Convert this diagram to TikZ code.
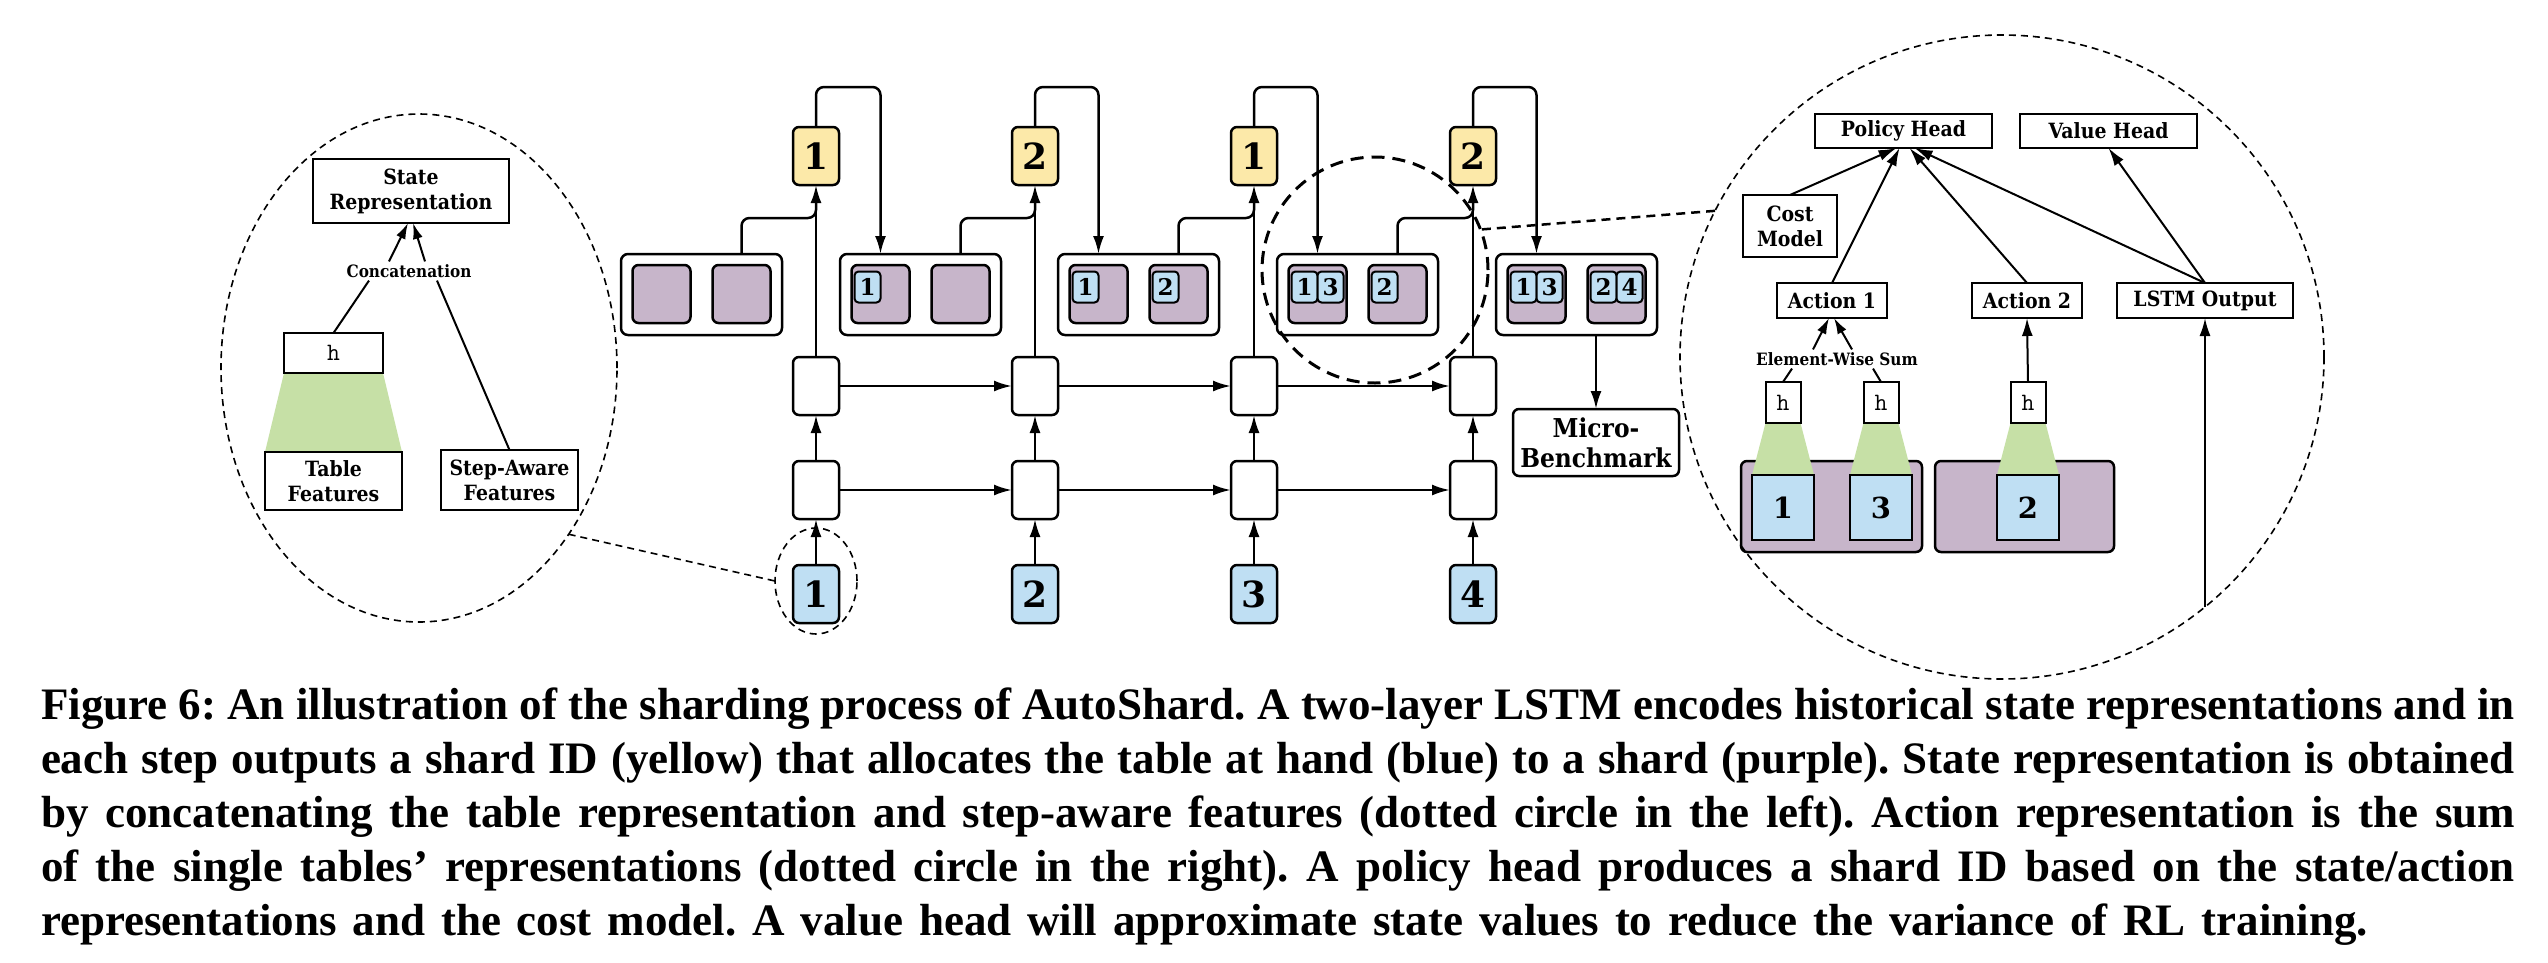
\documentclass[tikz,border=0pt]{standalone}
\usepackage{fontspec}
\setmainfont{Liberation Serif}
\newfontfamily\dfont{DejaVu Serif}[FakeStretch=0.9]
\newfontfamily\dnum{DejaVu Serif}
\usetikzlibrary{shapes.geometric,arrows.meta,calc}
\pgfdeclarelayer{bg}
\pgfdeclarelayer{mid}
\pgfsetlayers{bg,mid,main}
\definecolor{cyellow}{HTML}{FCE9A9}
\definecolor{cblue}{HTML}{BFDFF3}
\definecolor{cpurple}{HTML}{C7B5CA}
\definecolor{cgreen}{HTML}{C6E0A6}
\frenchspacing
\tikzset{
  every node/.style={inner sep=0pt, outer sep=0pt},
  cellbox/.style={draw, line width=2.5pt, rounded corners=6pt, minimum width=46pt, minimum height=58pt, font=\dnum\bfseries\fontsize{36}{36}\selectfont},
  ybox/.style={cellbox, fill=cyellow},
  bbox/.style={cellbox, fill=cblue},
  lbox/.style={cellbox, fill=white},
  shardset/.style={draw, line width=2.5pt, rounded corners=7pt, minimum width=161pt, minimum height=81pt, fill=white},
  pbox/.style={draw, line width=2.5pt, rounded corners=6pt, fill=cpurple, minimum width=58pt, minimum height=58pt},
  tbox/.style={draw, line width=2pt, rounded corners=4pt, fill=cblue, minimum width=26pt, minimum height=31pt, font=\dnum\bfseries\fontsize{23}{23}\selectfont},
  lab/.style={draw, line width=2pt, fill=white, font=\dfont\bfseries\fontsize{21}{25}\selectfont, align=center},
  smalllab/.style={inner sep=3pt, font=\dfont\bfseries\fontsize{17}{17}\selectfont},
  hbox/.style={draw, line width=2pt, fill=white, font=\ttfamily\fontsize{25}{25}\selectfont},
  bigp/.style={draw, line width=2.5pt, rounded corners=6pt, fill=cpurple, minimum height=91pt},
  bigb/.style={draw, line width=2.5pt, fill=cblue, minimum width=62pt, minimum height=65pt, font=\dnum\bfseries\fontsize{29}{29}\selectfont},
  mainln/.style={line width=2.5pt},
  thinln/.style={line width=2pt},
  smallarr/.style={-{Latex[length=16pt,width=10pt]}},
  dashthin/.style={line width=1.6pt, dash pattern=on 7pt off 5pt},
  dashthick/.style={line width=3pt, dash pattern=on 13pt off 8pt},
  dashlink/.style={line width=2.5pt, dash pattern=on 9pt off 6pt},
  captext/.style={anchor=base west, font=\bfseries\fontsize{45}{54}\selectfont}
}
\begin{document}
\begin{tikzpicture}[x=1pt, y=-1pt, >={Latex[length=18pt,width=11pt]}]
\begin{pgfonlayer}{bg}
\fill[white] (0,0) rectangle (2548,962);
\end{pgfonlayer}
\useasboundingbox (0,0) rectangle (2548,962);

\coordinate (topline) at (0,87);
\coordinate (junc) at (0,218);

% ---------- LSTM columns ----------
\foreach \i/\x/\yv/\bv in {1/816/1/1, 2/1035/2/2, 3/1254/1/3, 4/1473/2/4} {
  \node[ybox] (y\i) at (\x,156) {\yv};
  \node[lbox] (u\i) at (\x,386) {};
  \node[lbox] (l\i) at (\x,490) {};
  \node[bbox] (b\i) at (\x,594) {\bv};
}

% ---------- shard containers ----------
\foreach \k/\x in {1/701.5, 2/920.5, 3/1138.5, 4/1357.5, 5/1576.5} {
  \node[shardset] (c\k) at (\x,294.5) {};
  \node[pbox] (pa\k) at (\x-40,294) {};
  \node[pbox] (pb\k) at (\x+40,294) {};
}
\node[tbox] (t21) at ($(pa2)+(-13,-7)$) {1};
\node[tbox] (t31) at ($(pa3)+(-13,-7)$) {1};
\node[tbox] (t32) at ($(pb3)+(-13,-7)$) {2};
\node[tbox] (t41) at ($(pa4)+(-13,-7)$) {1};
\node[tbox] (t43) at ($(pa4)+(13,-7)$) {3};
\node[tbox] (t42) at ($(pb4)+(-13,-7)$) {2};
\node[tbox] (t51) at ($(pa5)+(-13,-7)$) {1};
\node[tbox] (t53) at ($(pa5)+(13,-7)$) {3};
\node[tbox] (t52) at ($(pb5)+(-13,-7)$) {2};
\node[tbox] (t54) at ($(pb5)+(13,-7)$) {4};

% ---------- LSTM connectors ----------
\foreach \i in {1,2,3,4} {
  \draw[mainln,->] (b\i) -- (l\i);
  \draw[mainln,->] (l\i) -- (u\i);
  \draw[mainln,->] (u\i.north) -- (y\i.south);
  \pgfmathtruncatemacro{\j}{\i+1}
  \draw[mainln,->,rounded corners=8pt] (y\i.north) |- (topline -| pa\j) -- (pa\j |- c\j.north);
  \draw[mainln,rounded corners=8pt] (pb\i |- c\i.north) |- (junc -| u\i) -- ++(0,-20);
}
\foreach \i/\j in {1/2,2/3,3/4} {
  \draw[mainln,->] (u\i.east) -- (u\j.west);
  \draw[mainln,->] (l\i.east) -- (l\j.west);
}

% ---------- micro-benchmark ----------
\node[draw, line width=2.5pt, rounded corners=6pt, fill=white, minimum width=166pt, minimum height=67pt, align=center, font=\dfont\bfseries\fontsize{26}{30}\selectfont] (mb) at (1596,442.5) {Micro-\\Benchmark};
\draw[mainln,->] (mb.north |- c5.south) -- (mb.north);

% ---------- middle dashed circle ----------
\node[circle, draw, dashthick, minimum size=226pt] (mcirc) at (1375,270) {};

% ---------- left panel ----------
\node[ellipse, draw, dashthin, minimum width=396pt, minimum height=508pt] (lcirc) at (419,368) {};
\node[ellipse, draw, dashthin, minimum width=82pt, minimum height=106pt] (scirc) at (816,581) {};
\draw[dashthin] (lcirc.-48.6) -- (scirc.west);
\node[lab, minimum width=196pt, minimum height=64pt] (state) at (411,191) {State\\Representation};
\node[smalllab] (concat) at (409,271) {Concatenation};
\node[hbox, minimum width=99pt, minimum height=40pt] (hL) at (333.5,353) {h};
\node[lab, minimum width=137pt, minimum height=58pt] (tf) at (333.5,481) {Table\\Features};
\node[lab, minimum width=137pt, minimum height=60pt] (sa) at (509.5,480) {Step-Aware\\Features};
\begin{pgfonlayer}{mid}
\fill[cgreen] (hL.south west) -- (hL.south east) -- (tf.north east) -- (tf.north west) -- cycle;
\end{pgfonlayer}
\draw[thinln] (hL.north) -- ([xshift=-40pt]concat.south);
\draw[thinln] (sa.north) -- ([xshift=28pt]concat.south);
\draw[thinln,smallarr] ([xshift=-20pt]concat.north) -- ([xshift=-3pt]state.south);
\draw[thinln,smallarr] ([xshift=16pt]concat.north) -- ([xshift=2pt]state.south);

% ---------- right panel ----------
\node[circle, draw, dashthin, minimum size=644pt] (rcirc) at (2002,357) {};
\draw[dashlink] (rcirc.153.9) -- (mcirc.21.8);
\node[lab, minimum width=177pt, minimum height=34pt] (ph) at (1903.5,131) {Policy Head};
\node[lab, minimum width=177pt, minimum height=34pt] (vh) at (2108.5,131) {Value Head};
\node[lab, minimum width=94pt, minimum height=62pt] (cm) at (1790,226) {Cost\\Model};
\node[lab, minimum width=110pt, minimum height=35pt] (a1) at (1832,300.5) {Action 1};
\node[lab, minimum width=110pt, minimum height=35pt] (a2) at (2027,300.5) {Action 2};
\node[lab, minimum width=176pt, minimum height=35pt] (lo) at (2205,300.5) {LSTM Output};
\begin{pgfonlayer}{bg}
\node[bigp, minimum width=181pt] (bp1) at (1831.5,506.5) {};
\node[bigp, minimum width=179pt] (bp2) at (2024.5,506.5) {};
\end{pgfonlayer}
\node[bigb] (r1) at (1783,507.5) {1};
\node[bigb] (r3) at (1881,507.5) {3};
\node[bigb] (r2) at (2028,507.5) {2};
\node[hbox, minimum width=35pt, minimum height=41pt] (h1) at (1783,402.5) {h};
\node[hbox, minimum width=35pt, minimum height=41pt] (h3) at (1881,402.5) {h};
\node[hbox, minimum width=35pt, minimum height=41pt] (h2) at (2028,402.5) {h};
\begin{pgfonlayer}{mid}
\foreach \n in {1,2,3} {
  \fill[cgreen] (h\n.south west) -- (h\n.south east) -- (r\n.north east) -- (r\n.north west) -- cycle;
}
\end{pgfonlayer}
\node[smalllab] (ews) at (1837,359) {Element-Wise Sum};
\draw[thinln] (h1.north) -- ([xshift=-45pt]ews.south);
\draw[thinln] (h3.north) -- ([xshift=36pt]ews.south);
\draw[thinln,smallarr] ([xshift=-24pt]ews.north) -- ([xshift=-3pt]a1.south);
\draw[thinln,smallarr] ([xshift=15pt]ews.north) -- ([xshift=2pt]a1.south);
\draw[thinln,->] (h2.north) -- (a2.south);
\draw[thinln,->] (lo.south |- rcirc.-51) -- (lo.south);
\draw[thinln,->] (cm.north) -- ([xshift=-7pt]ph.south);
\draw[thinln,->] (a1.north) -- ([xshift=-4pt]ph.south);
\draw[thinln,->] (a2.north) -- ([xshift=6pt]ph.south);
\draw[thinln,->] (lo.north) -- ([xshift=11pt]ph.south);
\draw[thinln,->] (lo.north) -- (vh.south);

% ---------- caption ----------
\node[captext] (cap1) at (41,719) {\makebox[2474pt][s]{Figure 6: An illustration of the sharding process of AutoShard. A two-layer LSTM encodes historical state representations and in}};
\node[captext] (cap2) at (41,773) {\makebox[2474pt][s]{each step outputs a shard ID (yellow) that allocates the table at hand (blue) to a shard (purple). State representation is obtained}};
\node[captext] (cap3) at (41,827) {\makebox[2474pt][s]{by concatenating the table representation and step-aware features (dotted circle in the left). Action representation is the sum}};
\node[captext] (cap4) at (41,881) {\makebox[2474pt][s]{of the single tables’ representations (dotted circle in the right). A policy head produces a shard ID based on the state/action}};
\node[captext] (cap5) at (41,935) {\makebox[2327pt][s]{representations and the cost model. A value head will approximate state values to reduce the variance of RL training.}};
\end{tikzpicture}
\end{document}
